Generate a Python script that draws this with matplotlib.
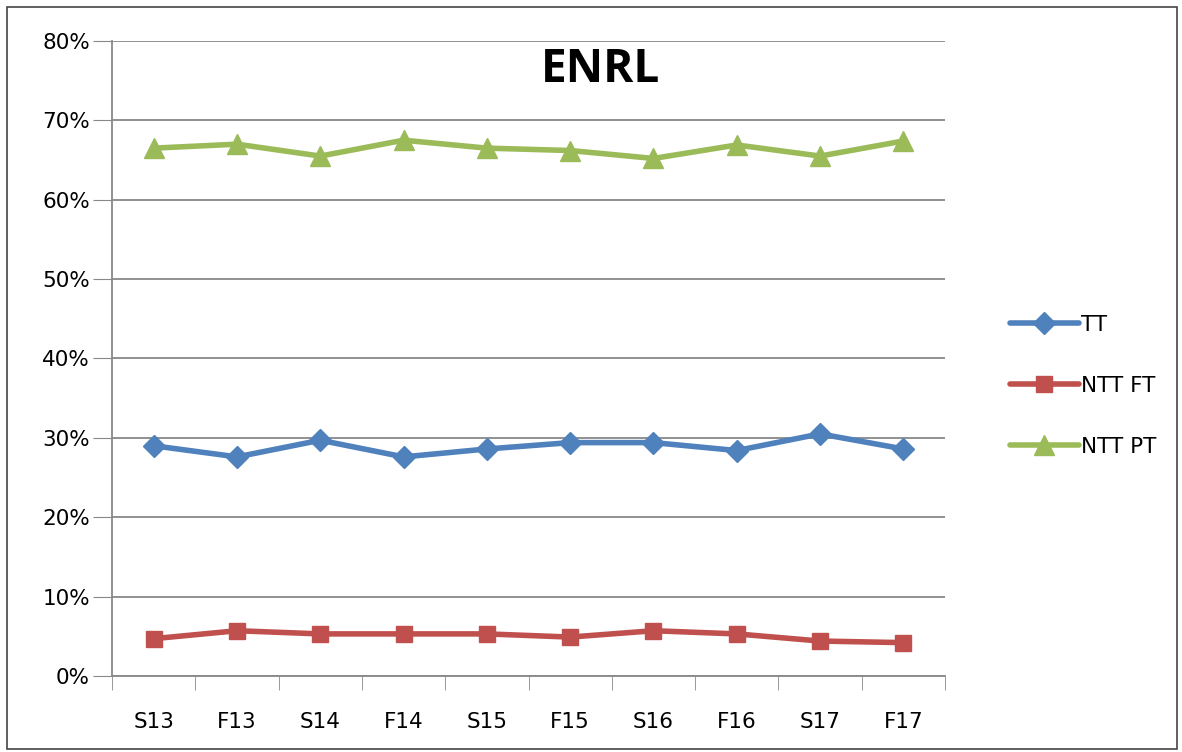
import numpy as np
import matplotlib
matplotlib.use("Agg")
import matplotlib.pyplot as plt
from matplotlib.ticker import FixedLocator, PercentFormatter

# --- Data ---
terms = ["S13", "F13", "S14", "F14", "S15", "F15", "S16", "F16", "S17", "F17"]
tt = [29.0, 27.6, 29.7, 27.6, 28.6, 29.4, 29.4, 28.4, 30.5, 28.6]
ntt_ft = [4.7, 5.7, 5.3, 5.3, 5.3, 4.9, 5.7, 5.3, 4.4, 4.2]
ntt_pt = [66.5, 67.0, 65.5, 67.5, 66.5, 66.2, 65.2, 66.9, 65.5, 67.4]

series = [
    ("TT", tt, "#4F81BD", "D", 11),
    ("NTT FT", ntt_ft, "#C0504D", "s", 12),
    ("NTT PT", ntt_pt, "#9BBB59", "^", 14),
]

fig = plt.figure(figsize=(11.82, 7.52), dpi=100)
ax = fig.add_axes([0.0948, 0.1011, 0.7047, 0.8444])

x = np.arange(len(terms))
for name, vals, color, marker, ms in series:
    ax.plot(x, vals, color=color, marker=marker, markersize=ms, linewidth=4,
            label=name, solid_capstyle="round")

ax.set_xlim(-0.5, len(terms) - 0.5)
ax.set_ylim(0, 80)
ax.set_yticks(np.arange(0, 81, 10))
ax.yaxis.set_major_formatter(PercentFormatter(decimals=0))
ax.set_xticks(x)
ax.set_xticklabels(terms)
ax.xaxis.set_minor_locator(FixedLocator(np.arange(-0.5, len(terms), 1)))
ax.tick_params(axis="x", which="major", length=0, pad=26, labelsize=15.5)
ax.tick_params(axis="x", which="minor", length=10, color="#888888", direction="out")
ax.tick_params(axis="y", length=14, color="#888888", direction="out", pad=2, labelsize=15.5)

ax.grid(axis="y", color="#888888", linewidth=1.3)
ax.set_axisbelow(True)
for side in ["top", "right"]:
    ax.spines[side].set_visible(False)
for side in ["left", "bottom"]:
    ax.spines[side].set_color("#888888")
    ax.spines[side].set_linewidth(1.3)

ax.text(0.586, 0.955, "ENRL", transform=ax.transAxes, ha="center", va="center",
        fontsize=33, fontweight="bold", family="Open Sans")

fig.legend(loc="center left", bbox_to_anchor=(0.838, 0.487), frameon=False,
           fontsize=15.5, handlelength=3.2, handletextpad=0.1, labelspacing=1.9)

# outer border
fig.patches.append(plt.Rectangle((0.006, 0.004), 0.99, 0.987, transform=fig.transFigure,
                                 fill=False, edgecolor="#444444", linewidth=1.2))

plt.savefig("out.png", dpi=100)
